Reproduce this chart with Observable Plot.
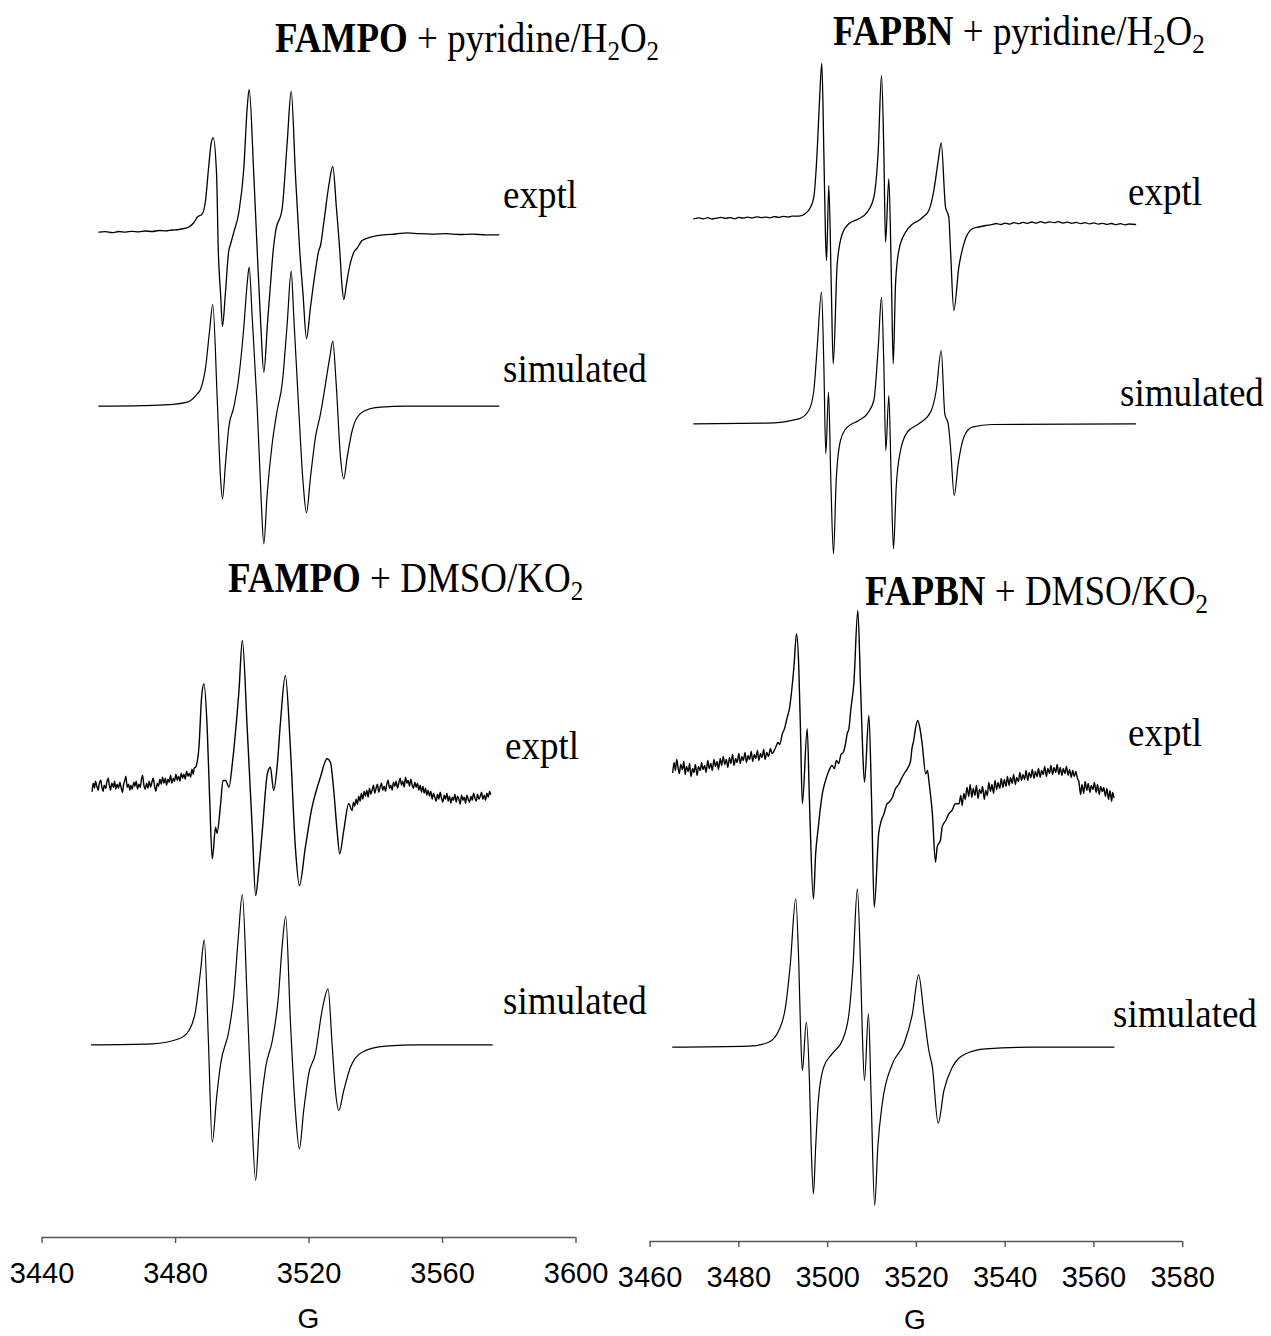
<!DOCTYPE html>
<html>
<head>
<meta charset="utf-8">
<script src="https://cdn.jsdelivr.net/npm/d3@7"></script>
<script src="https://cdn.jsdelivr.net/npm/@observablehq/plot@0.6"></script>
<style>
  body { margin: 0; background: #fff; }
  #wrap { position: relative; width: 1271px; height: 1336px; overflow: hidden; background: #fff; }
  #left, #right, #annot { position: absolute; top: 0; }
  #left { left: 0; }
  #right { left: 600px; }
  #annot { left: 0; pointer-events: none; }
</style>
</head>
<body>
<div id="wrap">
  <div id="left"></div>
  <div id="right"></div>
</div>
<script>
// ---------------- DATA (field in G, intensity in arbitrary units) ----------------
const leftTicks = [3440, 3480, 3520, 3560, 3600];
const rightTicks = [3460, 3480, 3500, 3520, 3540, 3560, 3580];
const axisTitle = "G";
const traceLabels = ["exptl", "simulated"];

// Left column: FAMPO
const fampoPyridineExptl = [[3457.0,0.3],[3459,0.8],[3461,-0.2],[3463,1],[3465,0.4],[3467,1.2],[3469,0.6],[3471,1.5],[3473,1],[3475,2],[3477,1.6],[3479,2.5],[3481,3],[3482.5,4],[3484,5.5],[3485.5,10],[3486.5,15.3],[3488.0,18.7],[3488.9,30],[3489.96,67],[3490.7,90],[3491.3,94.7],[3492.3,57],[3492.8,-18],[3493.5,-62],[3494.06,-94],[3494.9,-62],[3495.95,-18],[3496.45,-12],[3497.45,0.3],[3498.95,20],[3500.45,64],[3501.45,124],[3502.06,143],[3503.45,57],[3504.46,-18],[3505.5,-90],[3506.44,-139.7],[3507.6,-88],[3508.6,-45],[3509.25,-18],[3509.94,0.3],[3511.95,24],[3513.45,90],[3514.65,141],[3515.94,57],[3517.2,-18],[3518.2,-62],[3519.23,-106],[3520.43,-74.7],[3521.63,-44.7],[3522.92,-18],[3523.43,-13],[3524.42,10],[3525.92,47],[3527.11,66],[3528.22,24],[3529.2,-18],[3529.8,-50],[3530.41,-67],[3531.2,-52],[3531.9,-38],[3533.4,-20],[3534.4,-15.7],[3535.9,-8],[3538.4,-4.7],[3542.4,-2.3],[3546,-1.5],[3549.4,-0.3],[3553,-1.2],[3557,-1.6],[3561,-1.2],[3565,-2],[3569,-1.6],[3573,-2.4],[3576.9,-2.3]];

const fampoPyridineSim = [[3457.0,0],[3470,0.5],[3478,1.5],[3483.5,4],[3486.5,12.4],[3487.5,17],[3489.0,39],[3490.2,75.7],[3491.15,101.7],[3492.5,5.7],[3493.46,-71],[3494.06,-92.6],[3494.96,-57.6],[3495.95,-21],[3497.45,-1],[3498.95,29],[3500.45,79],[3501.45,122.4],[3502.06,139],[3502.96,89],[3504.46,-1],[3505.66,-94.3],[3506.44,-137.6],[3507.45,-87.6],[3508.95,-37.6],[3510.45,-4.3],[3511.95,22.4],[3513.45,82.4],[3514.65,135],[3515.43,89],[3516.93,-4.3],[3518.24,-77.6],[3519.23,-106.6],[3520.43,-71],[3521.93,-31],[3523.43,-7.6],[3524.93,22.4],[3526.22,49],[3527.11,65],[3528.13,22.4],[3529.42,-51],[3530.41,-72.6],[3531.43,-51],[3532.93,-24.3],[3534.43,-11],[3536.91,-4.3],[3539.4,-1.6],[3541.41,-1],[3549.4,0],[3576.86,0]];

const fampoDmsoExptl = [[3455.0,-4],[3455.3,4],[3455.7,-1],[3456.0,6],[3456.4,1],[3456.8,-3],[3457.1,3],[3457.6,7],[3457.9,0],[3458.3,-4],[3458.6,2],[3459.1,-1],[3459.4,5],[3459.8,9],[3460.2,1],[3460.5,-3],[3460.9,4],[3461.4,0],[3461.7,6],[3462.1,-2],[3462.5,3],[3462.9,-1],[3463.3,5],[3463.6,1],[3464.1,-5],[3464.4,2],[3464.8,7],[3465.1,11],[3465.5,0],[3465.9,3],[3466.3,-3],[3466.6,2],[3467.0,-2],[3467.5,5],[3467.8,1],[3468.2,6],[3468.6,-2],[3469.0,3],[3469.4,0],[3469.8,8],[3470.1,12],[3470.5,2],[3470.9,-2],[3471.3,4],[3471.7,-1],[3472.1,6],[3472.5,0],[3472.9,5],[3473.3,9],[3473.7,1],[3474.1,-4],[3474.5,4],[3474.9,1],[3475.3,8],[3475.7,3],[3476.1,10],[3476.5,4],[3476.9,9],[3477.3,2],[3477.7,8],[3478.1,5],[3478.5,12],[3478.9,4],[3479.3,9],[3479.7,6],[3480.1,13],[3480.5,7],[3480.9,11],[3481.3,6],[3481.7,14],[3482.1,9],[3482.5,13],[3482.9,8],[3483.3,16],[3483.7,11],[3484.1,14],[3484.5,10],[3484.9,18],[3485.3,13],[3485.6,19],[3486.0,20],[3487.0,40],[3487.8,90],[3488.5,103.4],[3489.5,56.7],[3490.2,-10],[3491.0,-71.6],[3492.0,-40],[3492.4,-46],[3493.5,-16.6],[3494.2,6.7],[3495.0,6.7],[3496.0,0],[3497.0,23.4],[3498.0,56.7],[3499.0,96.7],[3500.0,146.7],[3501.5,56.7],[3503.0,-43.3],[3504.0,-108.3],[3504.9,-83.3],[3506.0,-43.3],[3507.5,13.4],[3508.4,20],[3509.4,-3.3],[3510.5,23.4],[3511.4,63.4],[3512.9,111.7],[3514.4,40],[3515.9,-60],[3517.1,-98.3],[3518.9,-60],[3520.9,-20],[3521.9,-6.6],[3523.4,10],[3525.4,28.4],[3526.4,25],[3527.4,-3.3],[3528.4,-43.3],[3529.2,-66.6],[3530.4,-43.3],[3531.9,-16.6],[3532.9,-23.3],[3533.3,-15],[3533.7,-19],[3534.1,-12],[3534.5,-17],[3534.9,-9],[3535.3,-14],[3535.7,-6],[3536.1,-12],[3536.5,-4],[3536.9,-9],[3537.3,-3],[3537.7,-10],[3538.1,-1],[3538.5,-7],[3538.9,-3],[3539.3,2],[3539.7,-6],[3540.1,-1],[3540.5,3],[3540.9,-5],[3541.3,0],[3541.7,4],[3542.1,-3],[3542.5,1],[3542.9,-4],[3543.3,3],[3543.7,7],[3544.1,-1],[3544.5,2],[3544.9,-3],[3545.3,5],[3545.7,1],[3546.1,6],[3546.5,-1],[3546.9,4],[3547.3,9],[3547.7,2],[3548.1,6],[3548.5,0],[3548.9,10],[3549.3,4],[3549.7,7],[3550.1,1],[3550.5,8],[3550.9,2],[3551.3,-1],[3551.7,5],[3552.1,0],[3552.5,4],[3552.9,-3],[3553.3,2],[3553.7,-5],[3554.1,1],[3554.5,-6],[3554.9,-1],[3555.3,-8],[3555.7,-3],[3556.1,-9],[3556.5,-4],[3556.9,-12],[3557.3,-6],[3557.7,-10],[3558.1,-14],[3558.5,-7],[3558.9,-12],[3559.3,-5],[3559.7,-11],[3560.1,-15],[3560.5,-8],[3560.9,-12],[3561.3,-6],[3561.7,-14],[3562.1,-9],[3562.5,-16],[3562.9,-10],[3563.3,-13],[3563.7,-7],[3564.1,-15],[3564.5,-9],[3564.9,-12],[3565.3,-17],[3565.7,-8],[3566.1,-13],[3566.5,-10],[3566.9,-16],[3567.3,-8],[3567.7,-12],[3568.1,-15],[3568.5,-9],[3568.9,-13],[3569.3,-6],[3569.7,-11],[3570.1,-14],[3570.5,-7],[3570.9,-12],[3571.3,-9],[3571.7,-5],[3572.1,-12],[3572.5,-8],[3572.9,-13],[3573.3,-6],[3573.7,-10],[3574.1,-4],[3574.4,-7]];

const fampoDmsoSim = [[3454.8,0],[3473.0,1],[3481.0,6],[3484.0,14.3],[3486.0,34.3],[3487.5,74.3],[3488.6,105],[3489.8,7.6],[3491.0,-97.4],[3492.3,-52.4],[3493.5,-19],[3496.0,14.3],[3497.4,47.6],[3498.8,107.6],[3500.0,150.3],[3501.5,41],[3502.7,-59],[3504.0,-135.7],[3505.1,-79],[3507.0,-22.4],[3509.0,4.3],[3510.8,47.6],[3512.0,101],[3513.0,128.3],[3514.4,24.3],[3515.9,-65.7],[3517.1,-104],[3518.4,-65.7],[3519.9,-29],[3521.9,-9],[3523.9,34.3],[3525.7,56],[3526.9,1],[3527.9,-45.7],[3528.9,-65.7],[3530.4,-45.7],[3532.4,-22.4],[3535.9,-7.4],[3542.9,-1.4],[3552.9,0],[3574.9,0]];

// Right column: FAPBN
const fapbnPyridineExptl = [[3469.85,-0.3],[3471,0.6],[3472,-0.4],[3473,0.9],[3474,-0.5],[3475,0.4],[3476,1.2],[3477,0.2],[3478,0.8],[3479,-0.2],[3480,1.1],[3481,0.4],[3482,1.3],[3483,0.6],[3484,1.7],[3485,0.9],[3486,1.4],[3487,0.7],[3488,1.9],[3489,1.1],[3490,2.2],[3491,1.4],[3492,2.4],[3493.51,2.3],[3495,5],[3496.14,11.3],[3496.89,21.3],[3497.65,68],[3498.17,118],[3498.69,155.3],[3499.14,68],[3499.52,-18.7],[3499.75,-42],[3500.27,33],[3500.81,-65.3],[3501.26,-145.3],[3502.16,-45.3],[3503.29,-15.3],[3504.77,-5.3],[3507.03,-0.3],[3508.92,6.3],[3510.41,21.3],[3511.4,68],[3512.14,143],[3512.66,68],[3513.04,-23.7],[3513.79,39.7],[3514.39,-65.3],[3514.78,-145.3],[3515.3,-65.3],[3516.04,-32],[3517.55,-13.7],[3519,-6],[3520.55,-2],[3521.6,2],[3522.8,8],[3523.93,28],[3524.92,58],[3525.59,75.7],[3526.56,11.3],[3527.3,1.3],[3527.69,-32],[3528.43,-92],[3529.56,-48.7],[3530.69,-25.3],[3532.58,-10.3],[3534,-8.5],[3535.57,-7],[3537,-6.2],[3538,-5.0],[3539,-6.0],[3540,-4.6],[3541,-5.6],[3542,-4.2],[3543,-5.2],[3544,-3.9],[3545,-4.8],[3546,-3.5],[3547,-4.6],[3548,-3.2],[3549,-4.4],[3550,-3.3],[3551,-4.2],[3552,-3.1],[3553,-4.5],[3554,-3.6],[3555,-4.8],[3556,-3.9],[3557,-5.1],[3558,-4.2],[3559,-5.3],[3560,-4.4],[3561,-5.6],[3562,-4.8],[3563,-5.9],[3564,-5.0],[3565,-6.1],[3566,-5.2],[3567,-6.3],[3568,-5.5],[3569.38,-6]];

const fapbnPyridineSim = [[3469.85,0],[3486.0,0.6],[3493.51,5],[3495.76,13.3],[3496.89,33.3],[3497.65,76.6],[3498.62,131.6],[3499.14,60],[3499.59,-30],[3500.2,31.6],[3500.72,-56.7],[3501.32,-130],[3501.93,-56.7],[3502.9,-16.7],[3504.41,-3.4],[3507.03,3.3],[3508.92,10],[3510.41,23.3],[3511.4,76.6],[3512.14,126.6],[3512.66,60],[3513.11,-26.7],[3513.79,28.3],[3514.33,-56.7],[3514.84,-125],[3515.45,-63.4],[3516.42,-26.7],[3517.93,-8.4],[3520.55,0],[3523.18,11.6],[3524.47,33.3],[3525.59,73.3],[3526.4,10],[3527.17,0],[3527.69,-23.4],[3528.52,-71.7],[3529.42,-40],[3530.69,-13.4],[3532.58,-3.4],[3537.08,-0.7],[3569.38,0]];

const fapbnDmsoExptl = [[3465.1,-4],[3465.4,6],[3465.7,-2],[3466.0,9],[3466.3,1],[3466.6,-5],[3466.9,4],[3467.3,-1],[3467.6,7],[3467.9,-6],[3468.2,2],[3468.6,-3],[3468.9,5],[3469.2,-8],[3469.6,0],[3469.9,-4],[3470.2,4],[3470.6,-7],[3470.9,2],[3471.3,-2],[3471.6,6],[3471.9,-1],[3472.3,3],[3472.6,-4],[3473.0,8],[3473.3,0],[3473.7,5],[3474.0,-2],[3474.4,9],[3474.7,2],[3475.1,7],[3475.4,-1],[3475.8,10],[3476.1,3],[3476.5,12],[3476.8,4],[3477.2,9],[3477.5,1],[3477.9,11],[3478.2,5],[3478.6,14],[3478.9,3],[3479.3,10],[3479.6,6],[3480.0,15],[3480.3,5],[3480.7,12],[3481.0,8],[3481.4,16],[3481.7,6],[3482.1,13],[3482.4,9],[3482.8,17],[3483.1,7],[3483.5,14],[3483.8,10],[3484.2,18],[3484.5,8],[3484.9,15],[3485.2,11],[3485.6,19],[3485.9,9],[3486.3,16],[3486.7,12],[3487.1,20],[3487.5,15],[3488.3,21.3],[3488.8,26],[3489.2,24],[3489.8,34.7],[3490.3,40],[3490.9,51.3],[3491.4,60],[3491.9,78],[3492.4,101.3],[3493.0,134.7],[3493.5,101.3],[3493.9,34.7],[3494.3,-35.3],[3495.4,39.7],[3495.9,-32],[3496.8,-130.3],[3497.3,-85.3],[3497.9,-58.7],[3498.3,-42],[3498.8,-25.3],[3499.4,-14],[3500.3,-2],[3501.0,3],[3501.5,0],[3502.0,8],[3502.5,5],[3503.0,14],[3503.5,16],[3504.0,24],[3504.4,34.7],[3504.8,40],[3505.2,58],[3505.9,84.7],[3506.8,158],[3507.4,84.7],[3507.9,18],[3508.3,-13.7],[3509.3,53],[3509.9,-32],[3510.5,-138.7],[3511.5,-65.3],[3512.1,-52],[3512.7,-45.3],[3513.3,-36],[3514.0,-33],[3514.6,-28.7],[3515.3,-20],[3516.0,-16],[3516.8,-8.7],[3517.4,-4],[3518.0,0],[3518.7,8],[3519.0,20],[3519.4,28],[3519.8,40],[3520.3,48],[3520.8,40],[3521.3,24.7],[3522.1,-5.3],[3522.5,-2],[3522.8,-12],[3523.6,-45.3],[3524.3,-93.7],[3524.7,-78],[3525.4,-72],[3525.8,-58.7],[3526.6,-52],[3527.3,-45.3],[3528.0,-42],[3528.8,-35.3],[3529.6,-35.3],[3530.0,-27],[3530.3,-37],[3530.7,-25],[3531.0,-31],[3531.4,-19],[3531.8,-28],[3532.1,-16],[3532.5,-29],[3532.8,-20],[3533.2,-27],[3533.5,-17],[3533.9,-30],[3534.2,-21],[3534.6,-25],[3534.9,-18],[3535.3,-31],[3535.6,-22],[3536.0,-27],[3536.3,-14],[3536.7,-23],[3537.0,-16],[3537.4,-25],[3537.7,-12],[3538.1,-21],[3538.4,-14],[3538.8,-20],[3539.1,-10],[3539.5,-19],[3539.8,-11],[3540.2,-18],[3540.5,-8],[3540.9,-17],[3541.2,-9],[3541.6,-15],[3541.9,-6],[3542.3,-16],[3542.6,-9],[3543.0,-13],[3543.3,-4],[3543.7,-12],[3544.0,-6],[3544.4,-11],[3544.7,-2],[3545.1,-12],[3545.4,-4],[3545.8,-9],[3546.1,-1],[3546.5,-10],[3546.8,-3],[3547.2,-8],[3547.5,0],[3547.9,-9],[3548.2,-2],[3548.6,-6],[3548.9,2],[3549.3,-8],[3549.6,0],[3550.0,-5],[3550.3,3],[3550.7,-6],[3551.0,1],[3551.4,-4],[3551.7,4],[3552.1,-6],[3552.4,1],[3552.8,-7],[3553.1,0],[3553.5,-5],[3553.8,2],[3554.2,-7],[3554.5,-1],[3554.9,-9],[3555.2,-2],[3555.6,-8],[3555.9,-3],[3556.3,-10],[3556.6,-13],[3557.0,-26],[3557.3,-16],[3557.7,-25],[3558.0,-13],[3558.4,-22],[3558.7,-15],[3559.1,-24],[3559.4,-17],[3559.8,-21],[3560.1,-14],[3560.5,-24],[3560.8,-16],[3561.2,-26],[3561.5,-18],[3561.9,-23],[3562.2,-19],[3562.6,-28],[3562.9,-20],[3563.3,-31],[3563.6,-22],[3564.0,-33],[3564.2,-24],[3564.5,-29]];

const fapbnDmsoSim = [[3465.1,0],[3482.2,1],[3486.7,5],[3489.0,16.7],[3490.5,40],[3491.6,83.4],[3492.8,148.4],[3493.5,83.4],[3493.9,16.7],[3494.3,-23.3],[3495.2,25],[3495.9,-33.3],[3496.3,-100],[3496.8,-146.6],[3497.3,-100],[3497.9,-53.3],[3499.1,-20],[3501.0,-6.6],[3503.3,6.7],[3504.8,33.4],[3505.7,80],[3506.7,158.4],[3507.4,83.4],[3507.8,16.7],[3508.3,-33.3],[3509.2,33.4],[3509.8,-50],[3510.6,-158.3],[3511.3,-100],[3512.3,-56.6],[3514.6,-16.6],[3517.2,3.4],[3519.1,33.4],[3520.5,72.4],[3521.7,33.4],[3522.8,-3.3],[3523.6,-20],[3524.9,-76],[3526.2,-43.3],[3528.1,-20],[3531.1,-6.6],[3535.6,-1.6],[3546.1,0],[3564.5,0]];

// ---------------- LAYOUT ----------------
const FONT_SANS = "'Liberation Sans', Arial, Helvetica, sans-serif";
const FONT_SERIF = "'Liberation Serif', 'Times New Roman', Times, serif";

function panel({ticks, domain, width, mL, mR, axisY, traces}) {
  const lineMarks = traces.map(t =>
    Plot.line(t.data, {
      x: d => d[0],
      y: d => d[1] + t.offset,
      curve: "monotone-x",
      stroke: "#000",
      strokeWidth: t.sw
    })
  );
  return Plot.plot({
    width, height: 1336,
    marginLeft: mL, marginRight: mR, marginTop: 0, marginBottom: 1336 - axisY,
    x: {domain},
    y: {domain: [0, axisY], axis: null},
    style: {background: "transparent", overflow: "visible", fontFamily: FONT_SANS, color: "#000"},
    marks: [
      Plot.ruleY([0], {stroke: "#555", strokeWidth: 1.4}),
      Plot.axisX(ticks, {anchor: "bottom", tickSize: 6, tickPadding: 19, stroke: "#555", strokeWidth: 1.4,
        tickFormat: d => String(d), fontSize: 29, label: null}),
      ...lineMarks
    ]
  });
}

const leftChart = panel({
  ticks: leftTicks, domain: [3440, 3600], width: 620, mL: 41.6, mR: 44.5, axisY: 1237,
  traces: [
    {data: fampoPyridineExptl, offset: 1005, sw: 1.3},
    {data: fampoPyridineSim, offset: 831.3, sw: 1.2},
    {data: fampoDmsoExptl, offset: 450.3, sw: 1.4},
    {data: fampoDmsoSim, offset: 192.7, sw: 1.2}
  ]
});
const rightChart = panel({
  ticks: rightTicks, domain: [3460, 3580], width: 671, mL: 49.6, mR: 88.8, axisY: 1241,
  traces: [
    {data: fapbnPyridineExptl, offset: 1023, sw: 1.3},
    {data: fapbnPyridineSim, offset: 817.7, sw: 1.2},
    {data: fapbnDmsoExptl, offset: 473, sw: 1.4},
    {data: fapbnDmsoSim, offset: 194.3, sw: 1.2}
  ]
});
document.getElementById("left").appendChild(leftChart);
document.getElementById("right").appendChild(rightChart);

// ---------------- ANNOTATIONS (titles, trace labels, axis titles) ----------------
const svg = d3.select("#wrap").append("svg")
  .attr("id", "annot").attr("width", 1271).attr("height", 1336)
  .style("position", "absolute").style("left", 0).style("top", 0);

// text drawn with a slight vertical stretch, as in the reference figure
function title(x, y, bold, rest) {
  const t = svg.append("text")
    .attr("transform", `translate(${x},${y}) scale(1,1.12)`)
    .attr("font-family", FONT_SERIF).attr("font-size", 37).attr("fill", "#000")
    .style("white-space", "pre");
  t.append("tspan").attr("font-weight", "bold").text(bold);
  // "_2" marks a subscript 2
  const parts = rest.split("_");
  parts.forEach((p, i) => {
    if (i === 0) { t.append("tspan").text(p); return; }
    t.append("tspan").attr("font-size", 25).attr("dy", 7).text(p[0]);
    if (p.length > 1) t.append("tspan").attr("dy", -7).text(p.slice(1));
  });
}
title(275, 52, "FAMPO", " + pyridine/H_2O_2");
title(833, 45, "FAPBN", " + pyridine/H_2O_2");
title(228, 592, "FAMPO", " + DMSO/KO_2");
title(865, 605, "FAPBN", " + DMSO/KO_2");

function label(x, y, s) {
  svg.append("text").attr("transform", `translate(${x},${y}) scale(1,1.08)`)
    .attr("font-family", FONT_SERIF).attr("font-size", 37).attr("fill", "#000").text(s);
}
label(503, 208, traceLabels[0]);
label(503, 382, traceLabels[1]);
label(1128, 205, traceLabels[0]);
label(1120, 406, traceLabels[1]);
label(505, 759, traceLabels[0]);
label(503, 1014, traceLabels[1]);
label(1128, 746, traceLabels[0]);
label(1113, 1027, traceLabels[1]);

function axisLabel(x, y) {
  svg.append("text").attr("x", x).attr("y", y).attr("text-anchor", "middle")
    .attr("font-family", FONT_SANS).attr("font-size", 28).attr("fill", "#000").text(axisTitle);
}
axisLabel(308.5, 1328);
axisLabel(915, 1329);
</script>
</body>
</html>
